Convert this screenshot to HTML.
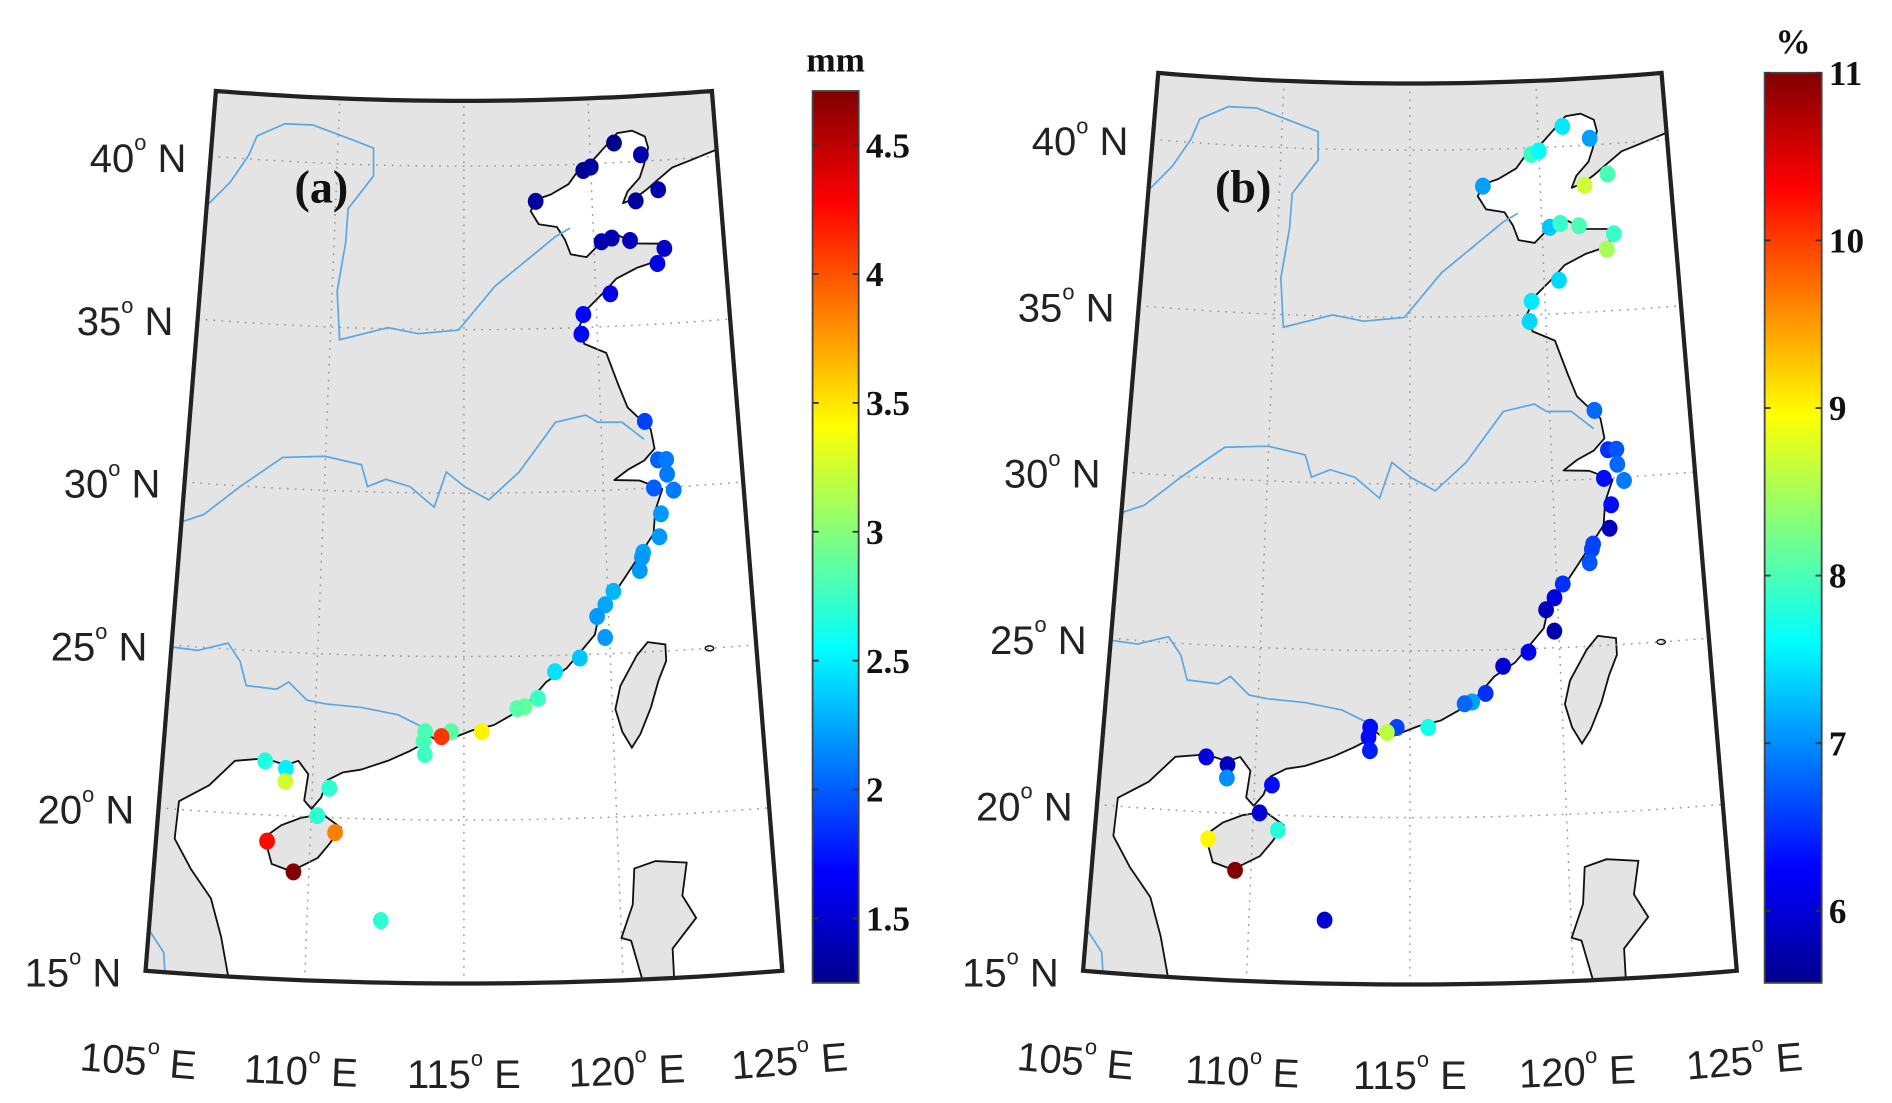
<!DOCTYPE html>
<html><head><meta charset="utf-8"><style>
html,body{margin:0;padding:0;background:#fff;}
svg{display:block;}
.lab{font-family:"Liberation Sans",sans-serif;font-size:33px;fill:#222;}
.cb{font-family:"Liberation Serif",serif;font-weight:bold;font-size:29px;fill:#111;}
</style></head><body>
<svg id="fig" width="1892" height="1103" viewBox="0 0 1560 909" preserveAspectRatio="none" xmlns="http://www.w3.org/2000/svg">
<defs>
<linearGradient id="jet" x1="0" y1="1" x2="0" y2="0">
<stop offset="0" stop-color="#00008f"/><stop offset="0.125" stop-color="#0000ff"/><stop offset="0.375" stop-color="#00ffff"/><stop offset="0.625" stop-color="#ffff00"/><stop offset="0.875" stop-color="#ff0000"/><stop offset="1" stop-color="#800000"/>
</linearGradient>
</defs>
<g id="panelA"></g>
<g id="panelB"></g>
</svg>
<script>
// Station data (lon, lat) and values
const stationLon = [120.96,122.0,119.7,120.0,117.8,121.7,122.6,120.3,120.7,121.4,122.7,122.4,120.55,119.5,119.4,121.6,122.0,122.3,122.3,121.8,122.5,122.0,121.9,121.3,121.25,121.15,120.2,119.9,119.6,119.85,118.96,118.1,117.5,117.05,116.8,115.6,114.57,114.25,113.7,113.65,113.7,108.4,109.1,109.1,110.56,110.2,110.8,108.6,109.5,112.35];
const stationLat = [40.6,40.2,39.8,39.9,38.9,38.8,39.1,37.6,37.7,37.6,37.3,36.85,36.0,35.4,34.8,32.05,30.85,30.85,30.4,30.0,29.9,29.2,28.5,28.05,27.9,27.5,26.9,26.5,26.15,25.5,24.9,24.5,23.7,23.45,23.4,22.7,22.7,22.55,22.7,22.4,22.0,21.65,21.45,21.05,20.9,20.05,19.55,19.2,18.3,16.9];
const valuesA = [1.3,1.4,1.3,1.35,1.35,1.35,1.4,1.4,1.4,1.45,1.5,1.6,1.6,1.7,1.7,1.9,2.0,2.1,2.1,2.0,2.1,2.2,2.2,2.25,2.2,2.2,2.3,2.25,2.2,2.2,2.35,2.45,2.75,2.9,2.85,3.45,2.85,4.1,2.8,2.8,2.75,2.65,2.5,3.25,2.7,2.7,3.85,4.25,4.7,2.7];
const valuesB = [7.5,7.1,7.9,7.6,7.1,8.7,8.0,7.3,7.9,8.0,7.9,8.5,7.4,7.5,7.4,6.8,6.5,6.7,6.8,6.3,6.9,6.3,5.9,6.6,6.6,6.7,6.5,6.1,5.9,5.8,6.2,6.0,6.5,7.1,6.8,7.7,6.6,8.6,6.3,6.3,6.4,6.1,5.9,7.0,6.3,6.0,7.8,9.0,11.0,6.0];
const ticksA = [1.5,2,2.5,3,3.5,4,4.5];
const tickLabelsA = ["1.5","2","2.5","3","3.5","4","4.5"];
const ticksB = [6,7,8,9,10,11];
const tickLabelsB = ["6","7","8","9","10","11"];
const rangeA = [1.25,4.71];
const rangeB = [5.57,11.0];
const lonTicks = [105,110,115,120,125];
const latTicks = [15,20,25,30,35,40];

const NS="http://www.w3.org/2000/svg";
function el(t,a,p){const e=document.createElementNS(NS,t);for(const k in a)e.setAttribute(k,a[k]);if(p)p.appendChild(e);return e;}
const PA={cx:382.5,ay:-2481,r15:3291.5,k:26.94,n:0.007983};
const PB={cx:1162.5,ay:-2416.6,r15:3227.9,k:27.5,n:0.008359};
function proj(p,lon,lat){const r=p.r15-p.k*(lat-15),t=p.n*(lon-115);return [p.cx+r*Math.sin(t),p.ay+r*Math.cos(t)];}
function inv(p,x,y){const dx=x-p.cx,dy=y-p.ay;const r=Math.hypot(dx,dy),t=Math.atan2(dx,dy);return [115+t/p.n,15+(p.r15-r)/p.k];}
function jet(t){t=Math.max(0,Math.min(1,t));const c=v=>Math.round(255*Math.max(0,Math.min(1,v)));return `rgb(${c(1.5-Math.abs(4*t-3))},${c(1.5-Math.abs(4*t-2))},${c(1.5-Math.abs(4*t-1))})`;}

const sea=[[125,40.2],[124,39.95],[123.2,39.75],[122.6,39.4],[122.1,39.1],[121.6,38.85],[121.2,38.75],[121.4,39.1],[121.9,39.5],[122.1,39.9],[122.3,40.4],[122.2,40.75],[121.7,40.95],[121.1,40.9],[120.6,40.5],[120.1,40.1],[119.6,39.9],[119.1,39.4],[118.4,39.1],[117.8,38.95],[117.6,38.6],[117.9,38.2],[118.6,38.1],[118.9,37.7],[119.1,37.25],[119.7,37.15],[120.3,37.6],[120.9,37.8],[121.6,37.5],[122.6,37.45],[122.5,36.95],[121.6,36.75],[120.8,36.45],[120.3,36.05],[119.7,35.6],[119.3,35.0],[119.5,34.5],[120.3,34.2],[120.7,33.2],[121.0,32.5],[121.8,31.8],[121.9,31.2],[121.5,30.85],[120.9,30.6],[120.4,30.3],[121.3,30.25],[122.1,29.95],[121.8,29.3],[121.7,28.6],[121.2,28.0],[120.7,27.4],[120.2,26.8],[119.7,26.3],[119.5,25.6],[119.0,25.1],[118.5,24.6],[117.8,24.2],[117.2,23.6],[116.6,23.2],[116.0,22.9],[115.3,22.75],[114.6,22.5],[114.2,22.35],[113.9,22.55],[113.6,22.3],[113.2,22.1],[112.5,21.8],[111.6,21.5],[111.0,21.4],[110.5,21.15],[110.3,20.6],[110.0,20.25],[109.75,20.5],[109.85,21.3],[109.5,21.7],[109.1,21.55],[108.5,21.7],[108.2,21.7],[107.4,21.6],[106.6,20.8],[105.65,20.25],[105.6,19.1],[106.2,18.2],[106.9,17.35],[107.3,16.2],[107.6,15.0],[110,15],[113,15],[116,15],[119,15],[122,15],[125,15]];
const taiwan=[[121.9,25.2],[121.3,25.3],[120.9,24.9],[120.3,24],[120.1,23.3],[120.3,22.6],[120.6,22.1],[120.9,22.5],[121.3,23.3],[121.6,24.1],[121.9,24.7]];
const luzon=[[120.6,15],[120.3,16.2],[120.0,16.3],[120.4,17.3],[120.5,18.4],[121.2,18.6],[122.2,18.5],[122.0,17.5],[122.4,16.8],[121.6,15.9],[121.6,15.0]];
const hainanPx=[[218,690],[224,712],[240,718],[262,707],[272,695],[281,682],[266,671],[248,674],[232,680]];
const yellowPx=[[150,172],[172,168],[190,150],[205,128],[212,112],[235,102],[258,103],[290,115],[308,122],[308,145],[287,172],[285,200],[278,240],[280,280],[300,275],[320,270],[345,275],[378,272],[408,236],[458,195],[470,188]];
const yangtzePx=[[150,430],[168,424],[198,401],[233,377],[268,376],[298,383],[303,401],[318,395],[338,401],[358,418],[368,389],[383,401],[403,412],[428,389],[458,348],[483,342],[493,348],[513,348],[531,362]];
const pearlPx=[[140,533],[163,536],[188,530],[198,545],[203,565],[228,568],[238,562],[253,577],[268,580],[298,583],[328,589],[350,600]];
const cornerRiverPx=[[122,765],[135,785],[136,802]];
const hainan=hainanPx.map(q=>inv(PA,q[0],q[1]));
const rivers=[yellowPx,yangtzePx,pearlPx,cornerRiverPx].map(l=>l.map(q=>inv(PA,q[0],q[1])));

function pathFrom(p,pts,close){return pts.map((q,i)=>{const [x,y]=proj(p,q[0],q[1]);return (i?'L':'M')+x.toFixed(1)+','+y.toFixed(1);}).join('')+(close?'Z':'');}
function framePts(){const a=[];for(let l=105;l<=125;l+=0.5)a.push([l,42]);for(let l=125;l>=105;l-=0.5)a.push([l,15]);return a;}

function drawPanel(g,p,id,letter,vals,rng,ticks,tlabels,unit,cbx,cbw,cbTop,cbBot,letterPos){
  const cp=el('clipPath',{id:'clip'+id},g);
  el('path',{d:pathFrom(p,framePts(),true)},cp);
  const m=el('g',{'clip-path':`url(#clip${id})`},g);
  const land=el('path',{d:pathFrom(p,framePts(),true),fill:'#e4e4e4'},m);
  
  
  const s=el('path',{d:pathFrom(p,sea,true),fill:'#fff',stroke:'#111','stroke-width':1.5,'stroke-linejoin':'round'},m);
  
  
  for(const isl of [taiwan,luzon,hainan]){
    const e=el('path',{d:pathFrom(p,isl,true),fill:'#e4e4e4',stroke:'#111','stroke-width':1.5},m);
    
    
  }
  const [ix,iy]=proj(p,123.4,25.0);
  el('ellipse',{cx:ix,cy:iy,rx:3.5,ry:2,fill:'none',stroke:'#111','stroke-width':1.2},m);
  for(const rv of rivers){
    const e=el('path',{d:pathFrom(p,rv,false),fill:'none',stroke:'#5ba7e2','stroke-width':1.4},m);
    
    
  }
  for(const lon of [110,115,120]){
    const pts=[];for(let la=15;la<=42;la+=1)pts.push([lon,la]);
    const e=el('path',{d:pathFrom(p,pts,false),fill:'none',stroke:'#9a9a9a','stroke-width':1.2,'stroke-dasharray':'1.5 5'},m);
    
    
  }
  for(const lat of [20,25,30,35,40]){
    const pts=[];for(let lo=105;lo<=125;lo+=1)pts.push([lo,lat]);
    const e=el('path',{d:pathFrom(p,pts,false),fill:'none',stroke:'#9a9a9a','stroke-width':1.2,'stroke-dasharray':'1.5 5'},m);
    
    
  }
  for(let i=0;i<vals.length;i++){
    const [x,y]=proj(p,stationLon[i],stationLat[i]);
    const c=el('ellipse',{cx:x,cy:y,rx:6.5,ry:7,fill:jet((vals[i]-rng[0])/(rng[1]-rng[0]))},g);
    
    
  }
  const fr=el('path',{d:pathFrom(p,framePts(),true),fill:'none',stroke:'#222','stroke-width':3.5},g);
  
  
  for(const lat of latTicks){
    const [x,y]=proj(p,105,lat);
    const t=el('text',{x:x-20,y:y+13,'text-anchor':'end',class:'lab'},g);
    t.innerHTML=`${lat}<tspan font-size="18" dy="-18">o</tspan><tspan dy="18"> N</tspan>`;
    
    
  }
  for(const lon of lonTicks){
    const t0=p.n*(lon-115),r=p.r15+86;
    const x=p.cx+r*Math.sin(t0),y=p.ay+r*Math.cos(t0);
    const t=el('text',{x:x,y:y,'text-anchor':'middle',class:'lab',transform:`rotate(${(-t0*180/Math.PI).toFixed(2)} ${x.toFixed(1)} ${y.toFixed(1)})`},g);
    t.innerHTML=`${lon}<tspan font-size="18" dy="-18">o</tspan><tspan dy="18"> E</tspan>`;
    
    
  }
  const L=el('text',{x:letterPos[0],y:letterPos[1],'text-anchor':'middle','font-family':'"Liberation Serif",serif','font-weight':'bold','font-size':38,fill:'#111'},g);
  L.textContent=letter;
  
  
  const cb=el('g',{},g);
  
  
  el('rect',{x:cbx,y:cbTop,width:cbw,height:cbBot-cbTop,fill:'url(#jet)',stroke:'#444','stroke-width':1.5},cb);
  const sy=v=>cbBot-(v-rng[0])/(rng[1]-rng[0])*(cbBot-cbTop);
  ticks.forEach((v,i)=>{
    const y=sy(v);
    el('line',{x1:cbx,x2:cbx+5,y1:y,y2:y,stroke:'#333','stroke-width':1.5},cb);
    el('line',{x1:cbx+cbw-5,x2:cbx+cbw,y1:y,y2:y,stroke:'#333','stroke-width':1.5},cb);
    const t=el('text',{x:cbx+cbw+6,y:y+10,class:'cb'},cb);
    t.textContent=tlabels[i];
    
    
  });
  const u=el('text',{x:cbx+cbw/2,y:cbTop-16,'text-anchor':'middle',class:'cb'},g);
  u.textContent=unit;
  
  
}
drawPanel(document.getElementById('panelA'),PA,'A','(a)',valuesA,rangeA,ticksA,tickLabelsA,'mm',670,38,75,810,[265,167]);
drawPanel(document.getElementById('panelB'),PB,'B','(b)',valuesB,rangeB,ticksB,tickLabelsB,'%',1455,47,60,810,[1025,167]);
</script>
</body></html>
